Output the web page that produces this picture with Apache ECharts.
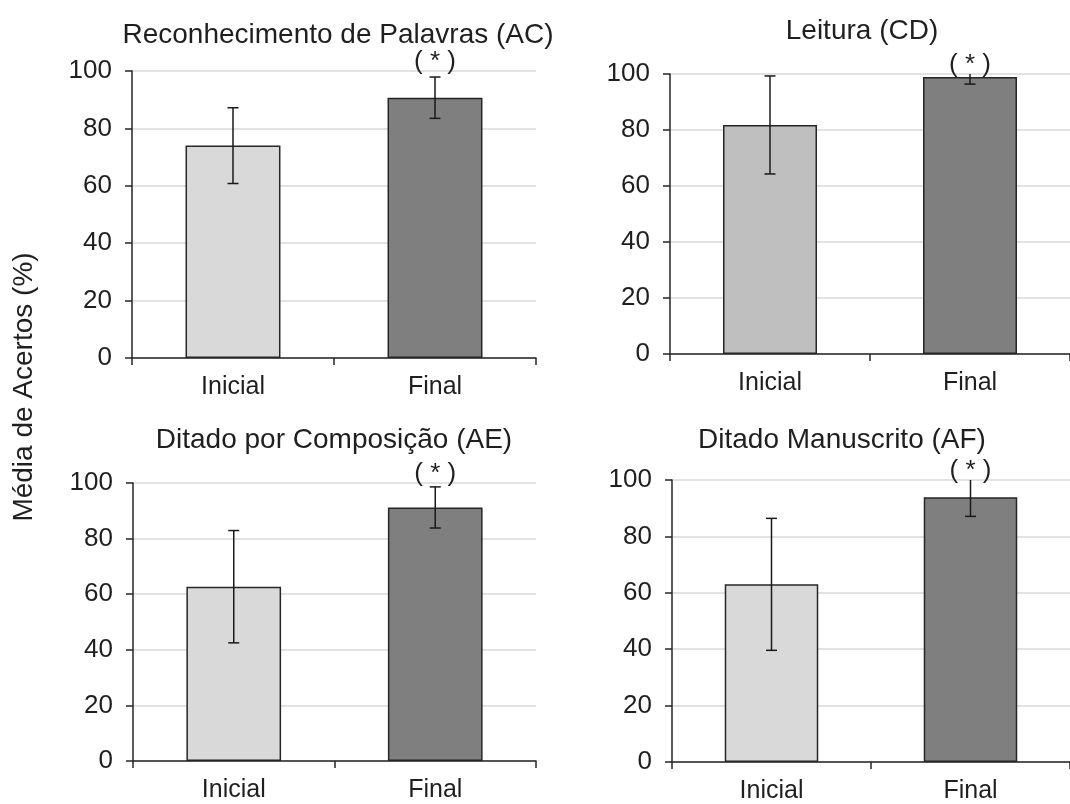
<!DOCTYPE html>
<html>
<head>
<meta charset="utf-8">
<title>Média de Acertos</title>
<script src="https://cdn.jsdelivr.net/npm/echarts@6/dist/echarts.min.js"></script>
<style>
  html, body { margin: 0; padding: 0; background: #ffffff; }
  #chart { width: 1070px; height: 804px; }
</style>
</head>
<body>
<div id="chart"></div>
<script>
// Mean percentage of correct answers (± SD) at the start and end of the programme
const categories = ['Inicial', 'Final'];

const panelTitles = [
  'Reconhecimento de Palavras (AC)',
  'Leitura (CD)',
  'Ditado por Composição (AE)',
  'Ditado Manuscrito (AF)'
];

const reconhecimentoMean = [74.0, 90.7];
const reconhecimentoSD   = [13.2, 7.2];
const leituraMean        = [81.8, 98.9];
const leituraSD          = [17.5, 2.5];
const composicaoMean     = [62.7, 91.2];
const composicaoSD       = [20.2, 7.4];
const manuscritoMean     = [63.0, 93.9];
const manuscritoSD       = [23.4, 6.8];

// significance marker shown above each category
const significance = ['', '( * )'];

const yMin = 0;
const yMax = 100;
const yInterval = 20;

const panelMeans = [reconhecimentoMean, leituraMean, composicaoMean, manuscritoMean];
const panelSDs = [reconhecimentoSD, leituraSD, composicaoSD, manuscritoSD];

// layout and colours
const FONT = '"Liberation Sans", Arial, sans-serif';
const TEXT = '#1f1f1f';
const AXIS = '#262626';
const grids = [
  { left: 132, top: 71,  width: 404, height: 287 },
  { left: 670, top: 74,  width: 405, height: 280 },
  { left: 133, top: 483, width: 403, height: 278 },
  { left: 672, top: 480, width: 406, height: 282 }
];
const titlePos = [
  { x: 338, y: 21 },
  { x: 862, y: 17 },
  { x: 334, y: 426 },
  { x: 842, y: 426 }
];
const initialColors = ['#d9d9d9', '#bfbfbf', '#d9d9d9', '#d9d9d9'];
const finalColor = '#7f7f7f';

const chart = echarts.init(document.getElementById('chart'));

const option = {
  backgroundColor: '#ffffff',
  animation: false,
  textStyle: { fontFamily: FONT },
  title: panelTitles.map((t, i) => ({
    text: t,
    left: titlePos[i].x,
    top: titlePos[i].y,
    textAlign: 'center',
    padding: 0,
    textStyle: { fontFamily: FONT, fontSize: 28, fontWeight: 'normal', color: TEXT }
  })),
  grid: grids.map(g => Object.assign({ containLabel: false }, g)),
  xAxis: grids.map((g, i) => ({
    type: 'category',
    gridIndex: i,
    data: categories,
    boundaryGap: true,
    axisLine: { lineStyle: { color: AXIS, width: 1.5 } },
    axisTick: { show: true, length: 7, interval: 0, lineStyle: { color: AXIS, width: 1.5 } },
    axisLabel: { fontFamily: FONT, fontSize: 25, color: TEXT, margin: 17, interval: 0 },
    splitLine: { show: false }
  })),
  yAxis: grids.map((g, i) => ({
    type: 'value',
    gridIndex: i,
    min: yMin,
    max: yMax,
    interval: yInterval,
    axisLine: { show: true, lineStyle: { color: AXIS, width: 1.5 } },
    axisTick: { show: true, length: 7, lineStyle: { color: AXIS, width: 1.5 } },
    axisLabel: { fontFamily: FONT, fontSize: 26, color: TEXT, margin: 20 },
    splitLine: { show: true, lineStyle: { color: '#d9d9d9', width: 1.5 } }
  })),
  graphic: [{
    type: 'text',
    x: 24,
    y: 387,
    rotation: Math.PI / 2,
    style: {
      text: 'Média de Acertos (%)',
      font: '28px ' + FONT,
      fill: TEXT,
      textAlign: 'center',
      textVerticalAlign: 'middle'
    }
  }],
  series: []
};

panelMeans.forEach((means, i) => {
  // bars
  option.series.push({
    type: 'bar',
    xAxisIndex: i,
    yAxisIndex: i,
    barWidth: '47%',
    data: means.map((v, k) => ({
      value: v,
      itemStyle: { color: k === 0 ? initialColors[i] : finalColor }
    })),
    itemStyle: { borderColor: AXIS, borderWidth: 1.5 },
    z: 2
  });
  // error bars (mean ± SD) and significance markers
  const sds = panelSDs[i];
  option.series.push({
    type: 'custom',
    xAxisIndex: i,
    yAxisIndex: i,
    z: 5,
    data: means.map((v, k) => [k, v, sds[k]]),
    renderItem: function (params, api) {
      const k = api.value(0);
      const mean = api.value(1);
      const sd = api.value(2);
      const hi = Math.min(mean + sd, yMax);
      const lo = Math.max(mean - sd, yMin);
      const pHi = api.coord([k, hi]);
      const pLo = api.coord([k, lo]);
      const pTop = api.coord([k, yMax]);
      const cap = 5.5;
      const ls = { stroke: '#1a1a1a', lineWidth: 1.5 };
      const children = [
        { type: 'line', shape: { x1: pHi[0], y1: pHi[1], x2: pLo[0], y2: pLo[1] }, style: ls },
        { type: 'line', shape: { x1: pLo[0] - cap, y1: pLo[1], x2: pLo[0] + cap, y2: pLo[1] }, style: ls }
      ];
      if (mean + sd <= yMax) {
        children.push({ type: 'line', shape: { x1: pHi[0] - cap, y1: pHi[1], x2: pHi[0] + cap, y2: pHi[1] }, style: ls });
      }
      const mark = significance[k];
      if (mark) {
        children.push({
          type: 'text',
          x: pTop[0],
          y: pTop[1] - 9,
          style: {
            text: mark,
            font: '26px ' + FONT,
            fill: TEXT,
            textAlign: 'center',
            textVerticalAlign: 'middle'
          }
        });
      }
      return { type: 'group', children: children };
    }
  });
});

chart.setOption(option);
</script>
</body>
</html>
